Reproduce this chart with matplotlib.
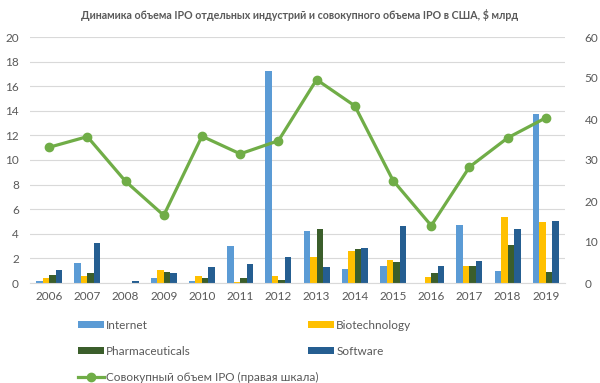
import numpy as np
import matplotlib
matplotlib.use("Agg")
import matplotlib.pyplot as plt

plt.rcParams['font.family'] = ['Lato', 'DejaVu Sans']

years = ['2006', '2007', '2008', '2009', '2010', '2011', '2012',
         '2013', '2014', '2015', '2016', '2017', '2018', '2019']
internet = [0.14, 1.64, 0.0, 0.42, 0.2, 2.97, 17.2, 4.2, 1.1, 1.42, 0.0, 4.69, 0.95, 13.7]
biotech = [0.44, 0.53, 0.0, 1.08, 0.53, 0.05, 0.53, 2.1, 2.6, 1.86, 0.46, 1.41, 5.37, 4.93]
pharma = [0.64, 0.8, 0.0, 0.92, 0.42, 0.39, 0.25, 4.36, 2.8, 1.7, 0.81, 1.41, 3.06, 0.87]
software = [1.03, 3.25, 0.14, 0.8, 1.3, 1.53, 2.1, 1.33, 2.83, 4.6, 1.36, 1.76, 4.39, 5.07]
total_ipo = [33.1, 35.7, 24.8, 16.5, 35.8, 31.5, 34.7, 49.6, 43.2, 25.0, 14.0, 28.3, 35.4, 40.3]

series = [('Internet', internet, '#5B9BD5'),
          ('Biotechnology', biotech, '#FFC000'),
          ('Pharmaceuticals', pharma, '#3B5E2B'),
          ('Software', software, '#255E91')]

text_col = '#595959'

fig = plt.figure(figsize=(6, 3.83), dpi=100)
ax = fig.add_axes([30 / 600, 100 / 383, 535 / 600, 246 / 383])

x = np.arange(len(years))
w = 0.17
handles = {}
for i, (name, vals, col) in enumerate(series):
    b = ax.bar(x + (i - 1.5) * w, vals, width=w, color=col, label=name, zorder=2)
    handles[name] = b

ax.set_xlim(-0.5, len(years) - 0.5)
ax.set_ylim(0, 20)
ax.set_yticks(range(0, 21, 2))
ax.set_xticks(x)
ax.set_xticklabels(years)
ax.grid(axis='y', color='#D9D9D9', linewidth=0.8, zorder=0)
ax.set_axisbelow(True)
for s in ['top', 'right', 'left']:
    ax.spines[s].set_visible(False)
ax.spines['bottom'].set_color('#D9D9D9')
ax.tick_params(length=0, labelsize=8.5, colors=text_col)
ax.tick_params(axis='x', pad=6)
ax.tick_params(axis='y', pad=8)

ax2 = ax.twinx()
line, = ax2.plot(x, total_ipo, color='#70AD47', linewidth=2.3, marker='o',
                 markersize=6, label='Совокупный объем IPO (правая шкала)')
ax2.set_ylim(0, 60)
ax2.set_yticks(range(0, 61, 10))
for s in ['top', 'right', 'left', 'bottom']:
    ax2.spines[s].set_visible(False)
ax2.tick_params(length=0, labelsize=8.5, colors=text_col, pad=14)

fig.text(0.5, 1 - 15 / 383, 'Динамика объема IPO отдельных индустрий и совокупного объема IPO в США, $ млрд',
         ha='center', va='center', fontsize=7.7, fontweight='bold', color=text_col)

# legend: two columns placed separately
leg_kw = dict(loc='upper left', frameon=False, fontsize=8.5, handlelength=2.2,
              handleheight=0.5, handletextpad=0.2, labelspacing=1.25,
              labelcolor=text_col, borderpad=0, borderaxespad=0)
leg1 = fig.legend([handles['Internet'], handles['Pharmaceuticals'], line],
                  ['Internet', 'Pharmaceuticals', 'Совокупный объем IPO (правая шкала)'],
                  bbox_to_anchor=(78 / 600, 1 - 320 / 383), **leg_kw)
leg2 = fig.legend([handles['Biotechnology'], handles['Software']],
                  ['Biotechnology', 'Software'],
                  bbox_to_anchor=(308 / 600, 1 - 320 / 383), **leg_kw)

fig.savefig('out.png', dpi=100)
